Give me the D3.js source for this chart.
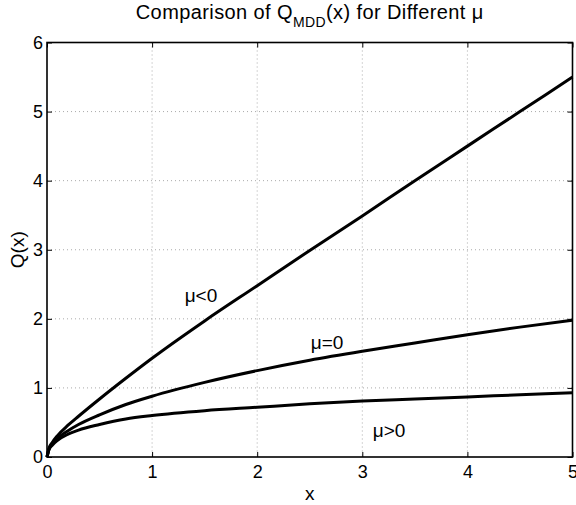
<!DOCTYPE html>
<html>
<head>
<meta charset="utf-8">
<script src="https://cdn.jsdelivr.net/npm/d3@7"></script>
<style>
  body { margin: 0; background: #fff; }
  svg { font-family: "Liberation Sans", Arial, sans-serif; }
</style>
</head>
<body>
<div id="chart"></div>
<script>
// values
const xs    = [0, 0.02, 0.05, 0.1, 0.2, 0.3, 0.5, 0.75, 1, 1.5, 2, 2.5, 3, 3.5, 4, 4.5, 5];
const qNeg  = [0, 0.13, 0.21, 0.31, 0.46, 0.59, 0.84, 1.14, 1.43, 1.97, 2.48, 2.99, 3.49, 4.00, 4.50, 5.00, 5.50];
const qZero = [0, 0.12, 0.19, 0.27, 0.38, 0.47, 0.61, 0.76, 0.88, 1.08, 1.25, 1.40, 1.53, 1.65, 1.77, 1.88, 1.98];
const qPos  = [0, 0.11, 0.17, 0.24, 0.33, 0.39, 0.47, 0.55, 0.60, 0.67, 0.72, 0.77, 0.81, 0.84, 0.87, 0.90, 0.93];
const xTicks = [0, 1, 2, 3, 4, 5];
const yTicks = [0, 1, 2, 3, 4, 5, 6];
const labels = [
  { text: "μ<0", x: 1.31, y: 2.24 },
  { text: "μ=0", x: 2.51, y: 1.56 },
  { text: "μ>0", x: 3.10, y: 0.29 }
];

const W = 576, H = 505;
const pL = 47, pR = 572.5, pT = 42.5, pB = 457;
const fs = 18;

const svg = d3.select("#chart").append("svg")
  .attr("width", W).attr("height", H);

const x = d3.scaleLinear().domain([0, 5]).range([pL, pR]);
const y = d3.scaleLinear().domain([0, 6]).range([pB, pT]);

// grid
const grid = svg.append("g")
  .attr("stroke", "#aaa").attr("stroke-width", 1).attr("stroke-dasharray", "1,3");
grid.selectAll(".gx").data(xTicks.slice(1, -1)).enter().append("line")
  .attr("x1", d => x(d)).attr("x2", d => x(d)).attr("y1", pT).attr("y2", pB);
grid.selectAll(".gy").data(yTicks.slice(1, -1)).enter().append("line")
  .attr("y1", d => y(d)).attr("y2", d => y(d)).attr("x1", pL).attr("x2", pR);

// axes, ticks inward on all four sides
const fmt = d3.format("d");
svg.append("g").attr("transform", `translate(0,${pB})`)
  .call(d3.axisBottom(x).tickValues(xTicks).tickFormat(fmt).tickSizeInner(-5).tickSizeOuter(0).tickPadding(8));
svg.append("g").attr("transform", `translate(${pL},0)`)
  .call(d3.axisLeft(y).tickValues(yTicks).tickFormat(fmt).tickSizeInner(-5).tickSizeOuter(0).tickPadding(4));
svg.append("g").attr("transform", `translate(0,${pT})`)
  .call(d3.axisTop(x).tickValues(xTicks).tickSizeInner(-5).tickSizeOuter(0).tickFormat(""));
svg.append("g").attr("transform", `translate(${pR},0)`)
  .call(d3.axisRight(y).tickValues(yTicks).tickSizeInner(-5).tickSizeOuter(0).tickFormat(""));
svg.selectAll(".domain").remove();
svg.selectAll(".tick line").attr("stroke", "#000").attr("stroke-width", 1);
svg.selectAll(".tick text").attr("font-size", fs).attr("fill", "#000")
  .attr("font-family", "Liberation Sans, Arial, sans-serif");

svg.append("rect")
  .attr("x", pL).attr("y", pT).attr("width", pR - pL).attr("height", pB - pT)
  .attr("fill", "none").attr("stroke", "#000").attr("stroke-width", 1.6);

// curves
const line = d3.line().x(d => x(d[0])).y(d => y(d[1])).curve(d3.curveMonotoneX);
[qNeg, qZero, qPos].forEach(q => {
  svg.append("path")
    .datum(xs.map((v, i) => [v, q[i]]))
    .attr("d", line)
    .attr("fill", "none").attr("stroke", "#000").attr("stroke-width", 3)
    .attr("stroke-linejoin", "round");
});

svg.selectAll(".lab").data(labels).enter().append("text")
  .attr("x", d => x(d.x)).attr("y", d => y(d.y))
  .attr("font-size", 19).text(d => d.text);

// title
const title = svg.append("text")
  .attr("x", (pL + pR) / 2).attr("y", 19)
  .attr("text-anchor", "middle").attr("font-size", 20)
  .attr("letter-spacing", 0.4);
title.append("tspan").text("Comparison of Q");
title.append("tspan").attr("font-size", 14).attr("dy", 8).text("MDD");
title.append("tspan").attr("dy", -8).text("(x) for Different μ");

// axis labels
svg.append("text").attr("x", (pL + pR) / 2).attr("y", 500)
  .attr("text-anchor", "middle").attr("font-size", 19).text("x");
svg.append("text")
  .attr("transform", `translate(24,${(pT + pB) / 2}) rotate(-90)`)
  .attr("text-anchor", "middle").attr("font-size", 19).text("Q(x)");
</script>
</body>
</html>
